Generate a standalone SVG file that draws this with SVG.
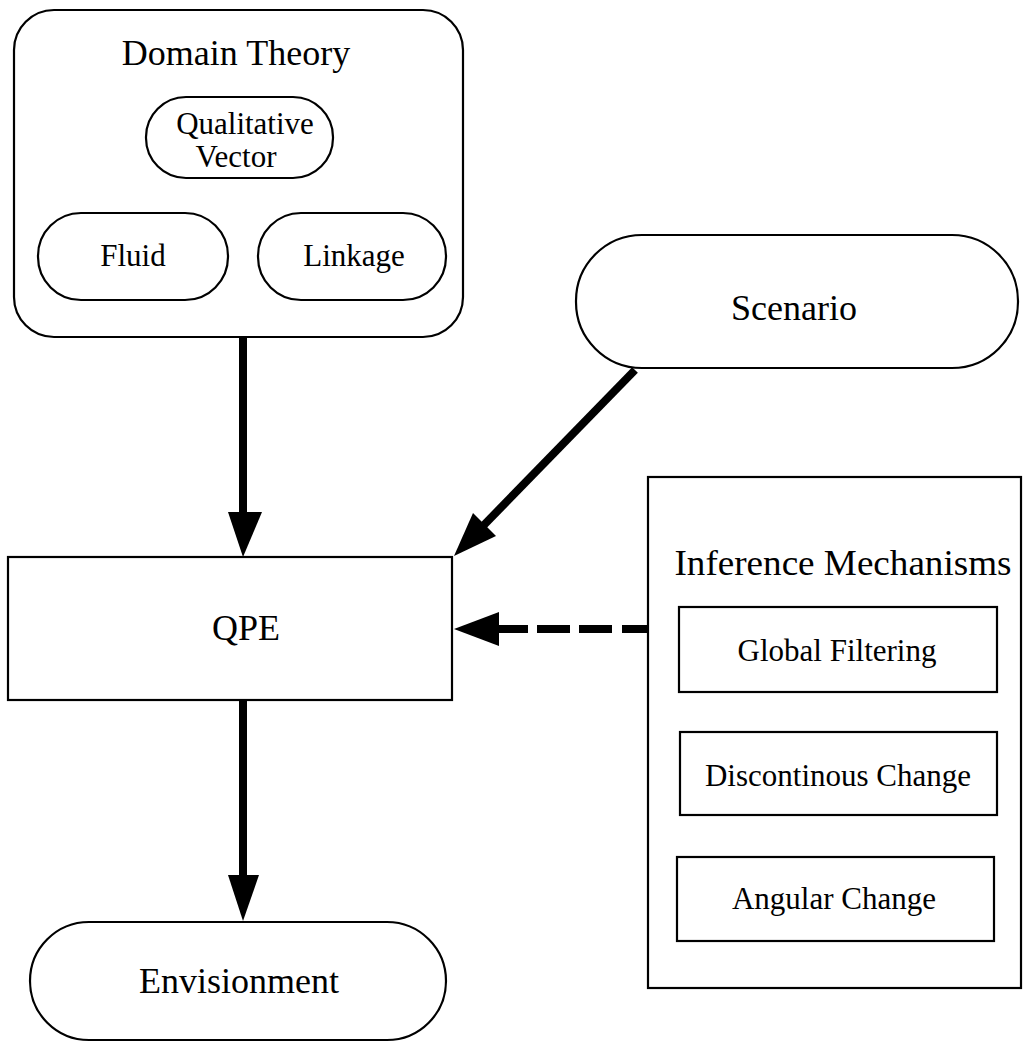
<svg xmlns="http://www.w3.org/2000/svg" width="1024" height="1043" viewBox="0 0 1024 1043">
<style>
.box{fill:none;stroke:#000;stroke-width:2.2}
.big{font-family:"Liberation Serif","Times New Roman",serif;font-size:36px;fill:#000;text-anchor:middle}
.small{font-family:"Liberation Serif","Times New Roman",serif;font-size:31px;fill:#000;text-anchor:middle}
.shaft{stroke:#000;stroke-width:8;fill:none}
.head{fill:#000;stroke:none}
</style>
<rect width="1024" height="1043" fill="#fff"/>
<g id="domain-theory">
<rect class="box" x="14" y="10" width="449" height="327" rx="40" ry="40"/>
<text class="big" x="236" y="65">Domain Theory</text>
</g>
<g id="qualitative-vector">
<rect class="box" x="146" y="97" width="187" height="81" rx="40" ry="40"/>
<text class="small" x="245" y="134">Qualitative</text>
<text class="small" x="236" y="167">Vector</text>
</g>
<g id="fluid">
<rect class="box" x="38" y="213" width="190" height="87" rx="43" ry="43"/>
<text class="small" x="133" y="266">Fluid</text>
</g>
<g id="linkage">
<rect class="box" x="258" y="213" width="188" height="87" rx="43" ry="43"/>
<text class="small" x="354" y="266">Linkage</text>
</g>
<g id="scenario">
<rect class="box" x="576" y="235" width="442" height="133" rx="66" ry="66"/>
<text class="big" x="794" y="320">Scenario</text>
</g>
<g id="qpe">
<rect class="box" x="8" y="557" width="444" height="143"/>
<text class="big" x="246" y="640">QPE</text>
</g>
<g id="inference-mechanisms">
<rect class="box" x="648" y="477" width="373" height="511"/>
<text class="big" x="843" y="575" textLength="337" lengthAdjust="spacingAndGlyphs">Inference Mechanisms</text>
</g>
<g id="global-filtering">
<rect class="box" x="679" y="607" width="318" height="85"/>
<text class="small" x="837" y="661">Global Filtering</text>
</g>
<g id="discontinous-change">
<rect class="box" x="680" y="732" width="317" height="83"/>
<text class="small" x="838" y="786">Discontinous Change</text>
</g>
<g id="angular-change">
<rect class="box" x="677" y="857" width="317" height="84"/>
<text class="small" x="834" y="909">Angular Change</text>
</g>
<g id="envisionment">
<rect class="box" x="30" y="922" width="416" height="118" rx="59" ry="59"/>
<text class="big" x="239" y="993">Envisionment</text>
</g>
<g id="connectors">
<line class="shaft" x1="243" y1="337" x2="243" y2="514"/>
<polygon class="head" points="228,512 262,512 243,557"/>
<line class="shaft" x1="635" y1="370" x2="482" y2="527"/>
<polygon class="head" points="454,556 473,513 496,536"/>
<line class="shaft" x1="498" y1="629" x2="648" y2="629" stroke-width="9" stroke-dasharray="30 9 33 9 33 10 26"/>
<polygon class="head" points="454,629 499,612 499,646"/>
<line class="shaft" x1="243" y1="700" x2="243" y2="877"/>
<polygon class="head" points="228,875 259,875 243,921"/>
</g>
</svg>
